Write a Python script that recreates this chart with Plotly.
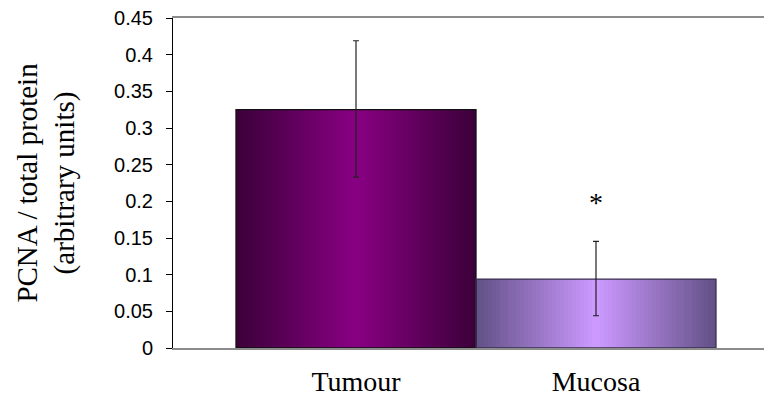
import plotly.graph_objects as go

categories = ["Tumour", "Mucosa"]
means = [0.325, 0.094]
err_plus = [0.094, 0.0515]
err_minus = [0.092, 0.050]
y_ticks = [0, 0.05, 0.1, 0.15, 0.2, 0.25, 0.3, 0.35, 0.4, 0.45]

# gradient end colours per bar (edge -> centre)
edge_cols = [(60, 0, 58), (100, 82, 136)]
mid_cols = [(136, 0, 130), (204, 153, 255)]
outline_cols = ["#111111", "#3a2f4f"]

SERIF = "Liberation Serif, Times New Roman, serif"


def mix(a, b, t):
    return "rgb(%d,%d,%d)" % tuple(round(a[i] + (b[i] - a[i]) * t) for i in range(3))


fig = go.Figure()

# fake a horizontal gradient by stacking narrower, lighter bars
n = 30
for k in range(n):
    t = k / (n - 1)
    fig.add_trace(go.Bar(
        x=categories, y=means, width=1 - k / n,
        marker=dict(color=[mix(edge_cols[i], mid_cols[i], t) for i in range(2)],
                    line=dict(width=0)),
        showlegend=False, hoverinfo="skip",
    ))

# outline + error bars on top
fig.add_trace(go.Bar(
    x=categories, y=means, width=1,
    marker=dict(color="rgba(0,0,0,0)", line=dict(color=outline_cols, width=1.3)),
    error_y=dict(type="data", symmetric=False, array=err_plus, arrayminus=err_minus,
                 color="#222222", thickness=1.2, width=3),
    showlegend=False,
))

fig.add_annotation(x="Mucosa", y=0.1985, text="*", showarrow=False,
                   font=dict(family=SERIF, size=28, color="black"),
                   yanchor="middle")

fig.update_layout(
    width=772, height=406,
    margin=dict(l=165, r=0, t=10, b=66),
    barmode="overlay",
    plot_bgcolor="white", paper_bgcolor="white",
    font=dict(family="Liberation Sans, Arial", color="black"),
    xaxis=dict(
        type="category", range=[-0.7625, 1.7667], automargin=False,
        showline=True, linecolor="#8c8c8c", linewidth=1.5, mirror=True,
        ticks="", showgrid=False, ticklabelstandoff=8,
        tickfont=dict(family=SERIF, size=28, color="black"),
    ),
    yaxis=dict(
        range=[0, 0.45], tickvals=y_ticks, ticktext=[str(v) for v in y_ticks],
        automargin=False, ticklabeloverflow="allow", ticklabelstandoff=9,
        showline=True, linecolor="black", linewidth=1,
        ticks="outside", ticklen=6, tickcolor="black",
        showgrid=False, zeroline=False,
        tickfont=dict(size=20),
        title=dict(text="PCNA / total protein<br>(arbitrary units)", standoff=30,
                   font=dict(family=SERIF, size=29)),
    ),
)

fig.write_html("out.html")
